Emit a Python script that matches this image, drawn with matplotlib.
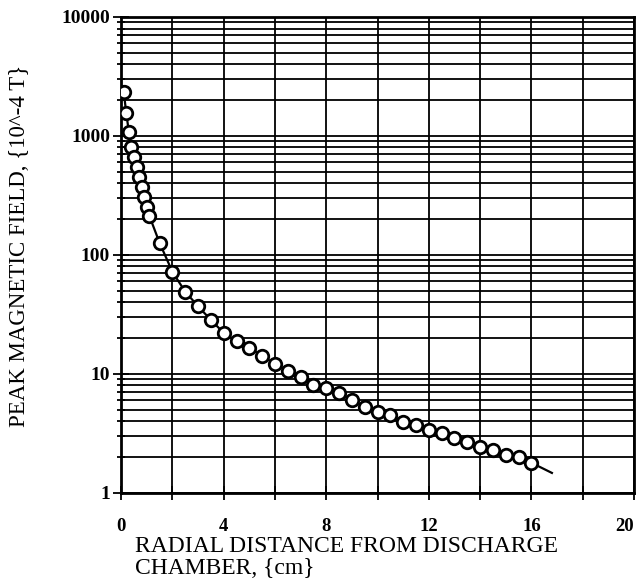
import matplotlib
matplotlib.use("Agg")
import matplotlib.pyplot as plt
from matplotlib.ticker import FixedLocator, LogLocator, NullFormatter
import numpy as np

# measured points: radial distance (cm) and peak field (1e-4 T)
dist = [0.1, 0.2, 0.3, 0.4, 0.5, 0.6, 0.7, 0.8, 0.9, 1.0, 1.1, 1.5,
        2.0, 2.5, 3.0, 3.5, 4.0, 4.5, 5.0, 5.5, 6.0, 6.5, 7.0, 7.5,
        8.0, 8.5, 9.0, 9.5, 10.0, 10.5, 11.0, 11.5, 12.0, 12.5, 13.0,
        13.5, 14.0, 14.5, 15.0, 15.5, 16.0]
field = [2340, 1560, 1080, 810, 665, 550, 452, 373, 307, 253, 213, 126,
         72, 49, 37, 28.4, 22.1, 18.9, 16.5, 14.2, 12.1, 10.6, 9.4, 8.1,
         7.6, 6.9, 6.05, 5.3, 4.8, 4.5, 3.95, 3.73, 3.38, 3.19, 2.9,
         2.68, 2.44, 2.3, 2.09, 2.01, 1.79]

# fitted curve drawn through the data and a bit past it
curve_x = dist + [16.8]
curve_y = field + [1.47]

xticks = [0, 4, 8, 12, 16, 20]
yticks = [1, 10, 100, 1000, 10000]

plt.rcParams['font.family'] = ['Liberation Serif', 'DejaVu Serif']

fig = plt.figure(figsize=(6.41, 5.86), dpi=100)
ax = fig.add_axes([0.189, 0.159, 0.800, 0.812])

ax.set_yscale('log')
ax.set_xlim(0, 20)
ax.set_ylim(1, 10000)

ax.plot(curve_x, curve_y, color='black', lw=1.6, zorder=3)
ax.plot(dist, field, 'o', ms=9, mfc='white', mec='black', mew=2, zorder=4)

ax.set_xticks(xticks)
ax.set_xticklabels([str(t) for t in xticks])
ax.xaxis.set_minor_locator(FixedLocator(np.arange(2, 20, 4)))
ax.set_yticks(yticks)
ax.set_yticklabels([str(t) for t in yticks])
ax.yaxis.set_minor_locator(LogLocator(base=10, subs=np.arange(2, 10)))
ax.yaxis.set_minor_formatter(NullFormatter())

ax.grid(True, which='both', color='black', lw=1.3)
ax.tick_params(axis='both', which='both', direction='inout', color='black', width=1.3)
ax.tick_params(axis='y', which='major', length=12, labelsize=14, pad=2)
ax.tick_params(axis='y', which='minor', length=6)
ax.tick_params(axis='x', which='both', length=10, labelsize=13.5, pad=13)
for lab in ax.get_xticklabels() + ax.get_yticklabels():
    lab.set_fontweight('bold')
ax.get_xticklabels()[-1].set_ha('right')
for s in ax.spines.values():
    s.set_linewidth(2)

ax.set_ylabel('PEAK MAGNETIC FIELD, {10^-4 T}', fontsize=16.5)
ax.yaxis.set_label_coords(-0.177, 0.52)
fig.text(0.21, 0.048, 'RADIAL DISTANCE FROM DISCHARGE\nCHAMBER, {cm}',
         fontsize=17, ha='left', va='center', linespacing=1.05)

fig.savefig('out.png', dpi=100)
